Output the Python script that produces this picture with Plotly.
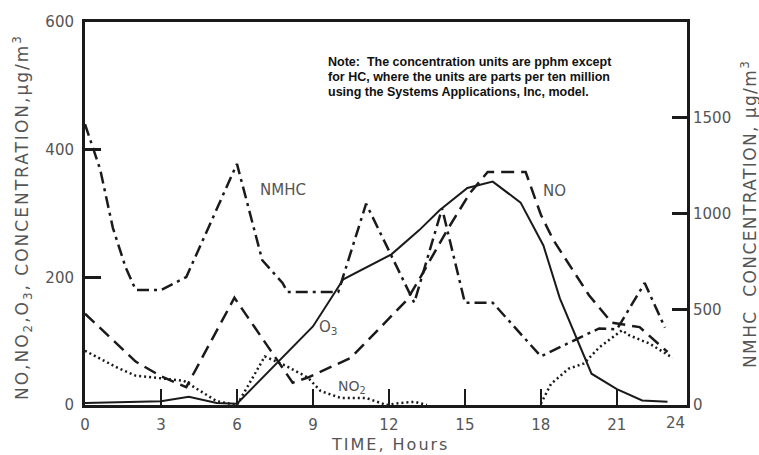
import plotly.graph_objects as go

# ---- data ----
hours_no = [0, 2, 3, 4, 5.9, 8.2, 8.8, 10.5, 12.7, 13.2, 14.3, 15.2, 15.9, 17.4, 18.0, 18.5, 19.9, 20.8, 21.9, 23.0]
no_vals = [143, 68, 45, 28, 168, 35, 43, 74, 164, 197, 274, 332, 365, 365, 298, 258, 172, 129, 122, 83]

hours_o3 = [0, 3, 4.1, 5.2, 6, 9, 10.2, 12.1, 13.2, 14.0, 15.1, 16.1, 17.2, 18.1, 18.75, 20.0, 21.0, 22.0, 23.0]
o3_vals = [3, 6, 13, 3, 2, 123, 197, 236, 274, 305, 340, 350, 317, 250, 167, 49, 25, 7, 5]

# None marks the stretch where the dotted NO2 curve lies hidden on the axis
hours_no2 = [0, 1.3, 2, 3.3, 3.9, 5.2, 6, 7.1, 7.9, 8.8, 9.3, 10.1, 11.1, 11.9, 12.4, 13.0, 13.5, 15.7, 18.0,
             18.4, 19.1, 19.7, 20.3, 20.8, 21.2, 21.5, 22.3, 23.2]
no2_vals = [85, 58, 46, 41, 38, 6, 0, 76, 62, 43, 22, 11, 11, 0, 3, 5, 0, None, 2,
            33, 57, 65, 90, 105, 117, 109, 96, 74]

hours_nmhc = [0, 0.6, 1.1, 1.6, 2, 3, 4, 6, 7, 7.8, 8.0, 10.0, 11.1, 13.0, 14.1, 15.0, 16.1, 18.0, 20.3, 21.0, 22.1, 22.9]
nmhc_vals = [1466, 1230, 925, 720, 601, 600, 668, 1259, 756, 637, 590, 590, 1051, 534, 1026, 534, 534, 254, 400, 395, 637, 404]

x_tick_vals = [0, 3, 6, 9, 12, 15, 18, 21]
x_tick_text = ["0", "3", "6", "9", "12", "15", "18", "21"]
left_tick_vals = [0, 200, 400, 600]
right_tick_vals = [0, 500, 1000, 1500]

note_lines = [
    "Note:  The concentration units are pphm except",
    "for HC, where the units are parts per ten million",
    "using the Systems Applications, Inc, model.",
]

INK = "#1a1a1a"
GRAY = "#555555"
FONT = "DejaVu Sans"

fig = go.Figure()
fig.add_trace(go.Scatter(x=hours_nmhc, y=nmhc_vals, mode="lines", yaxis="y2", name="NMHC",
                         line=dict(color=INK, width=2.5, dash="12px,5px,3px,5px")))
fig.add_trace(go.Scatter(x=hours_no, y=no_vals, mode="lines", name="NO",
                         line=dict(color=INK, width=2.5, dash="13px,7px")))
fig.add_trace(go.Scatter(x=hours_no2, y=no2_vals, mode="lines", name="NO2", connectgaps=False,
                         line=dict(color=INK, width=2.5, dash="2px,3px")))
fig.add_trace(go.Scatter(x=hours_o3, y=o3_vals, mode="lines", name="O3",
                         line=dict(color=INK, width=2)))

W, H = 759, 455
L, R, T, B = 85, 72, 22, 50
pw, ph = W - L - R, H - T - B


def px(xp):
    return (xp - L) / pw


def py(yp):
    return (H - B - yp) / ph


def spaced(text, sp):
    return '<span style="letter-spacing:%spx">%s</span>' % (sp, text)


ann = []
ann.append(dict(text="NMHC", x=7.82, y=337, xref="x", yref="y", showarrow=False,
                font=dict(family=FONT, size=15, color=GRAY)))
ann.append(dict(text="NO", x=18.55, y=335, xref="x", yref="y", showarrow=False,
                font=dict(family=FONT, size=15, color=GRAY)))
ann.append(dict(text="O<sub>3</sub>", x=9.6, y=122, xref="x", yref="y", showarrow=False,
                font=dict(family=FONT, size=15, color=GRAY)))
ann.append(dict(text="NO<sub>2</sub>", x=10.54, y=28, xref="x", yref="y", showarrow=False,
                font=dict(family=FONT, size=14, color=GRAY)))
ann.append(dict(text="24", x=23.3, y=py(423), xref="x", yref="paper", showarrow=False,
                yanchor="middle", font=dict(family=FONT, size=15, color=GRAY)))
ann.append(dict(text=spaced("TIME, Hours", 2), x=px(390), y=py(444), xref="paper", yref="paper",
                showarrow=False, yanchor="middle", font=dict(family=FONT, size=16, color=GRAY)))
ann.append(dict(text=spaced("NO,NO<sub>2</sub>,O<sub>3</sub>, CONCENTRATION,μg/m<sup>3</sup>", 2),
                textangle=-90, x=px(22), y=py(217), xref="paper", yref="paper", showarrow=False,
                xanchor="center", yanchor="middle", font=dict(family=FONT, size=17, color=GRAY)))
ann.append(dict(text=spaced("NMHC  CONCENTRATION, μg/m<sup>3</sup>", 1.4), textangle=-90,
                x=px(749), y=py(214), xref="paper", yref="paper", showarrow=False,
                xanchor="center", yanchor="middle", font=dict(family=FONT, size=17, color=GRAY)))
for i, line in enumerate(note_lines):
    ann.append(dict(text="<b>" + line + "</b>", x=px(326), y=py(62 + 15 * i), xref="paper", yref="paper",
                    showarrow=False, xanchor="left", yanchor="middle",
                    font=dict(family="Liberation Sans", size=12.5, color="#111")))

fig.update_layout(
    width=W, height=H,
    margin=dict(l=L, r=R, t=T, b=B),
    paper_bgcolor="white", plot_bgcolor="white",
    showlegend=False,
    annotations=ann,
    xaxis=dict(range=[0, 23.77], tickvals=x_tick_vals, ticktext=x_tick_text,
               ticks="inside", ticklen=16, tickwidth=2.2, tickcolor=INK,
               showline=True, mirror=True, linecolor=INK, linewidth=3,
               showgrid=False, zeroline=False, ticklabelstandoff=4,
               tickfont=dict(family=FONT, size=15, color=GRAY)),
    yaxis=dict(range=[0, 600], tickvals=left_tick_vals,
               ticks="inside", ticklen=16, tickwidth=2.5, tickcolor=INK,
               showline=True, mirror=True, linecolor=INK, linewidth=3,
               showgrid=False, zeroline=False, ticklabelstandoff=5,
               tickfont=dict(family=FONT, size=15, color=GRAY)),
    yaxis2=dict(range=[0, 2000], tickvals=right_tick_vals, overlaying="y", side="right",
                ticks="inside", ticklen=15, tickwidth=2.5, tickcolor=INK,
                showline=False, showgrid=False, zeroline=False, ticklabelstandoff=5,
                tickfont=dict(family=FONT, size=15, color=GRAY)),
)

fig.write_html("out.html")
